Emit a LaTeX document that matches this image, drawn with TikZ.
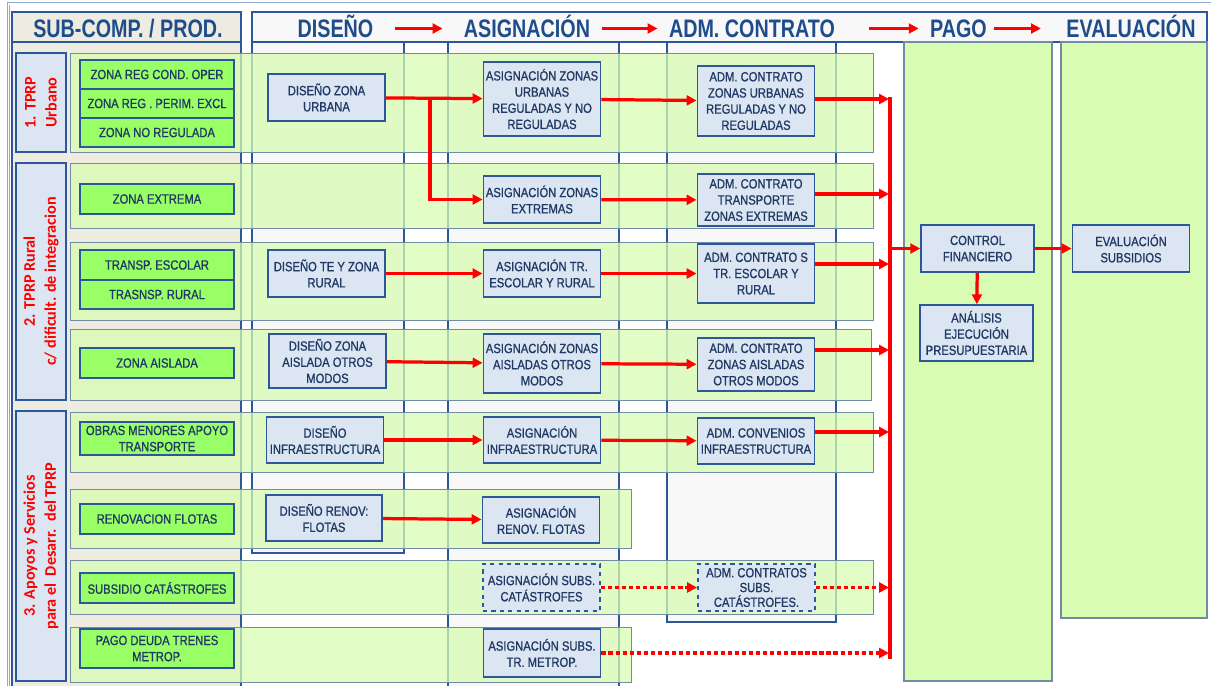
\documentclass[tikz,border=0pt]{standalone}
\usepackage{fontspec}
\setmainfont{Liberation Sans}
\newfontfamily\bxfont{Liberation Sans}[FakeStretch=0.84, FakeBold=0.9]
\newfontfamily\hdfont{Liberation Sans Bold}[FakeStretch=0.78]
\newfontfamily\grfont{Carlito}
\usetikzlibrary{arrows.meta, positioning}
\usepackage{xcolor}
\definecolor{lineblue}{RGB}{44,87,154}
\definecolor{procfill}{RGB}{220,230,242}
\definecolor{prodfill}{RGB}{153,255,102}
\definecolor{bandfill}{RGB}{216,252,178}
\definecolor{bandline}{RGB}{115,140,165}
\definecolor{beige}{RGB}{238,236,225}
\definecolor{colfill}{RGB}{248,248,248}
\definecolor{txtblue}{RGB}{31,56,100}
\definecolor{headblue}{RGB}{31,77,140}
\definecolor{framec}{RGB}{140,170,205}

\tikzset{
  proc/.style={draw=lineblue, line width=1.2pt, fill=procfill, text=txtblue,
    align=center, inner sep=0pt, minimum width=2.93cm,
    font=\bxfont\fontsize{9.5}{11.5}\selectfont},
  prod/.style={proc, fill=prodfill, minimum width=3.85cm},
  grp/.style={draw=lineblue, line width=1pt, fill=procfill, text=red,
    align=center, rotate=90, minimum height=1.25cm, inner sep=0pt,
    font=\grfont\bfseries\fontsize{11.5}{15}\selectfont},
  head/.style={text=headblue, inner sep=0pt, text height=13pt, text depth=0pt,
    font=\hdfont\fontsize{18}{20}\selectfont},
  band/.style={draw=bandline, line width=0.6pt, fill=bandfill, fill opacity=0.75},
  phase/.style={draw=lineblue, line width=1pt, fill=colfill},
  paycol/.style={draw=bandline, line width=0.8pt, fill=bandfill},
  flow/.style={red, line width=2.3pt, -{Triangle[length=7pt,width=7pt]}},
  flowdot/.style={flow, dash pattern=on 3pt off 2pt},
}

\begin{document}
\begin{tikzpicture}[x=0.025cm, y=-0.025cm]
  \useasboundingbox (0,0) rectangle (1211,685);

  % outer frame
  \draw[framec, line width=0.6pt] (7,695) -- (7,2) -- (1215,2);
  \draw[framec, line width=0.6pt] (9.5,695) -- (9.5,4.5);

  % column backgrounds
  \draw[draw=lineblue, line width=1pt, fill=beige] (12,12) rectangle (241,42);
  \draw[draw=lineblue, line width=1pt, fill=beige] (12,42) rectangle (241,695);
  \draw[phase] (252,12) rectangle (1207,42);
  \draw[phase] (252,42) rectangle (404,553);
  \draw[phase] (448,42) rectangle (619,695);
  \draw[phase] (667,42) rectangle (836,622);
  \draw[paycol] (904,42) rectangle (1052,681);
  \draw[paycol] (1061,42) rectangle (1207,618);

  % headers
  \node[head] (hSub) at (128,28.5) {SUB-COMP. / PROD.};
  \node[head] (hDis) at (335.5,28.5) {DISEÑO};
  \node[head] (hAsi) at (527,28.5) {ASIGNACIÓN};
  \node[head] (hAdm) at (752,28.5) {ADM. CONTRATO};
  \node[head] (hPag) at (958.5,28.5) {PAGO};
  \node[head] (hEva) at (1131,28.5) {EVALUACIÓN};
  \draw[flow, shorten <=15pt, shorten >=15pt] (hDis) -- (hAsi);
  \draw[flow, shorten <=8pt, shorten >=8pt] (hAsi) -- (hAdm);
  \draw[flow, shorten <=24pt, shorten >=8pt] (hAdm) -- (hPag);
  \draw[flow, shorten <=5pt, shorten >=18pt] (hPag) -- (hEva);

  % row bands
  \draw[band] (70,53) rectangle (873,152);
  \draw[band] (70,163) rectangle (873,228);
  \draw[band] (70,242) rectangle (873,320);
  \draw[band] (70,329) rectangle (871,400);
  \draw[band] (70,412) rectangle (873,472);
  \draw[band] (70,489) rectangle (631,548);
  \draw[band] (70,560) rectangle (873,614);
  \draw[band] (70,627) rectangle (631,682);

  % groups
  \node[grp, minimum width=2.475cm] (g1) at (41,102.5) {1. TPRP\\Urbano};
  \node[grp, minimum width=5.925cm] (g2) at (41,281.5) {2. TPRP Rural\\c/ dificult. de integracion};
  \node[grp, minimum width=6.75cm] (g3) at (41,546) {3. Apoyos y Servicios\\para el\ \ Desarr.\ \ del TPRP};

  % products
  \node[prod, minimum height=0.725cm] (zReg) at (157,74.5) {ZONA REG COND. OPER};
  \node[prod, minimum height=0.725cm] (zPer) at (157,103.5) {ZONA REG . PERIM. EXCL};
  \node[prod, minimum height=0.725cm] (zNoR) at (157,132.5) {ZONA NO REGULADA};
  \node[prod, minimum height=0.75cm] (zExt) at (157,199) {ZONA EXTREMA};
  \node[prod, minimum height=0.75cm] (tEsc) at (157,265) {TRANSP. ESCOLAR};
  \node[prod, minimum height=0.725cm] (tRur) at (157,294.5) {TRASNSP. RURAL};
  \node[prod, minimum height=0.75cm] (zAis) at (157,363) {ZONA AISLADA};
  \node[prod, minimum height=0.825cm] (oMen) at (157,438.5) {OBRAS MENORES APOYO\\TRANSPORTE};
  \node[prod, minimum height=0.75cm] (rFlo) at (157,519) {RENOVACION FLOTAS};
  \node[prod, minimum height=0.75cm] (sCat) at (157,588) {SUBSIDIO CATÁSTROFES};
  \node[prod, minimum height=0.975cm] (pDeu) at (157,648.5) {PAGO DEUDA TRENES\\METROP.};

  % diseño
  \node[proc, minimum height=1.175cm] (dUrb) at (326.5,97.5) {DISEÑO ZONA\\URBANA};
  \node[proc, minimum height=1.175cm] (dRur) at (326.5,273.5) {DISEÑO TE Y ZONA\\RURAL};
  \node[proc, minimum height=1.35cm] (dAis) at (327.5,361) {DISEÑO ZONA\\AISLADA OTROS\\MODOS};
  \node[proc, minimum height=1.15cm] (dInf) at (325,440) {DISEÑO\\INFRAESTRUCTURA};
  \node[proc, minimum height=1.15cm, minimum width=2.9cm] (dFlo) at (324,518) {DISEÑO RENOV:\\FLOTAS};

  % asignación
  \node[proc, minimum height=1.85cm] (aUrb) at (542,99) {ASIGNACIÓN ZONAS\\URBANAS\\REGULADAS Y NO\\REGULADAS};
  \node[proc, minimum height=1.175cm] (aExt) at (542,199.5) {ASIGNACIÓN ZONAS\\EXTREMAS};
  \node[proc, minimum height=1.175cm] (aRur) at (542,273.5) {ASIGNACIÓN TR.\\ESCOLAR Y RURAL};
  \node[proc, minimum height=1.475cm] (aAis) at (542,363.5) {ASIGNACIÓN ZONAS\\AISLADAS OTROS\\MODOS};
  \node[proc, minimum height=1.15cm] (aInf) at (542,440) {ASIGNACIÓN\\INFRAESTRUCTURA};
  \node[proc, minimum height=1.15cm] (aFlo) at (541,520) {ASIGNACIÓN\\RENOV. FLOTAS};
  \node[proc, minimum height=1.175cm, dashed] (aCat) at (541.5,587.5) {ASIGNACIÓN SUBS.\\CATÁSTROFES};
  \node[proc, minimum height=1.2cm] (aMet) at (542,653) {ASIGNACIÓN SUBS.\\TR. METROP.};

  % adm. contrato
  \node[proc, minimum height=1.75cm] (cUrb) at (756,101) {ADM. CONTRATO\\ZONAS URBANAS\\REGULADAS Y NO\\REGULADAS};
  \node[proc, minimum height=1.3cm] (cExt) at (756,200) {ADM. CONTRATO\\TRANSPORTE\\ZONAS EXTREMAS};
  \node[proc, minimum height=1.475cm] (cRur) at (756,273.5) {ADM. CONTRATO S\\TR. ESCOLAR Y\\RURAL};
  \node[proc, minimum height=1.325cm] (cAis) at (756,364.5) {ADM. CONTRATO\\ZONAS AISLADAS\\OTROS MODOS};
  \node[proc, minimum height=1.15cm] (cInf) at (756,441) {ADM. CONVENIOS\\INFRAESTRUCTURA};
  \node[proc, minimum height=1.175cm, dashed, font=\bxfont\fontsize{9.5}{10.5}\selectfont] (cCat) at (756.5,587.5) {ADM. CONTRATOS\\SUBS.\\CATÁSTROFES.};

  % pago y evaluación
  \node[proc, minimum height=1.175cm, minimum width=2.825cm] (pCtl) at (977.5,248.5) {CONTROL\\FINANCIERO};
  \node[proc, minimum height=1.4cm, minimum width=2.825cm] (pAna) at (976.5,333) {ANÁLISIS\\EJECUCIÓN\\PRESUPUESTARIA};
  \node[proc, minimum height=1.175cm] (eSub) at (1131,248.5) {EVALUACIÓN\\SUBSIDIOS};

  % diseño -> asignación
  \coordinate (split) at (430,98);
  \draw[flow] (dUrb) -- (aUrb);
  \draw[flow] (split) |- (aExt);
  \draw[flow] (dRur) -- (aRur);
  \draw[flow] (dAis) -- (aAis);
  \draw[flow] (dInf) -- (aInf);
  \draw[flow] (dFlo) -- (aFlo);

  % asignación -> adm. contrato
  \draw[flow] (aUrb) -- (cUrb);
  \draw[flow] (aExt) -- (cExt);
  \draw[flow] (aRur) -- (cRur);
  \draw[flow] (aAis) -- (cAis);
  \draw[flow] (aInf) -- (cInf);
  \draw[flowdot] (aCat) -- (cCat);

  % collector towards pago
  \coordinate (busTop) at (890,97);
  \coordinate (busBot) at (890,659);
  \coordinate (busP) at (890,248.5);
  \coordinate (b1) at (889,99);
  \coordinate (b2) at (889,194);
  \coordinate (b3) at (889,264);
  \coordinate (b4) at (889,350);
  \coordinate (b5) at (889,432);
  \coordinate (b7) at (889,587.5);
  \coordinate (b8) at (889,653);
  \draw[red, line width=2.3pt] (busTop) -- (busBot);
  \draw[flow] (cUrb.east |- b1) -- (b1);
  \draw[flow] (cExt.east |- b2) -- (b2);
  \draw[flow] (cRur.east |- b3) -- (b3);
  \draw[flow] (cAis.east |- b4) -- (b4);
  \draw[flow] (cInf.east |- b5) -- (b5);
  \draw[flowdot] (cCat.east |- b7) -- (b7);
  \draw[flowdot] (aMet.east |- b8) -- (b8);

  % pago -> evaluación
  \draw[flow] (busP) -- (pCtl);
  \draw[flow] (pCtl) -- (eSub);
  \draw[flow] (pCtl) -- (pAna);
\end{tikzpicture}
\end{document}
